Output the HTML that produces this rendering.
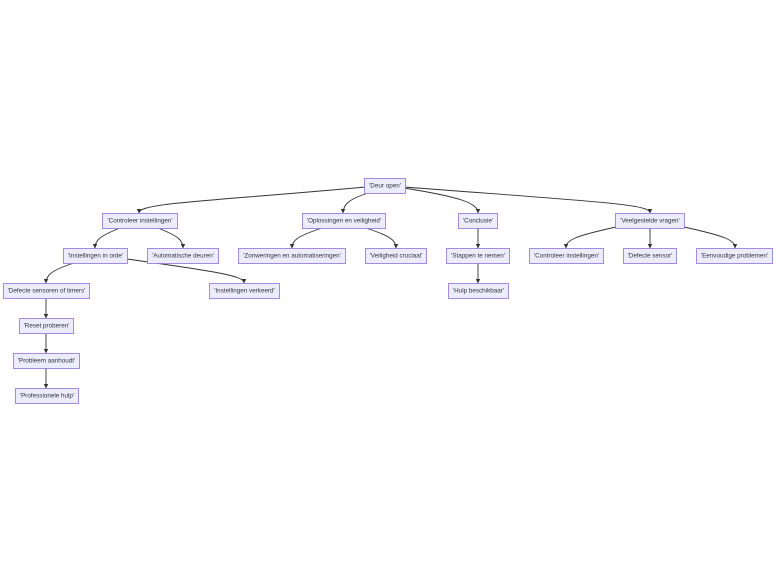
<!DOCTYPE html>
<html><head><meta charset="utf-8"><style>
html,body{margin:0;padding:0;background:#fff;width:784px;height:582px;overflow:hidden}
svg text{font-family:"Liberation Sans",Arial,sans-serif;font-size:6.3px;fill:#333;text-anchor:middle;dominant-baseline:central}
rect{fill:#ECECFF;stroke:#9370DB;stroke-width:0.8}
path.e{fill:none;stroke:#333;stroke-width:0.9}
</style></head><body>
<svg width="784" height="582" viewBox="0 0 784 582" xmlns="http://www.w3.org/2000/svg">
<defs><marker id="a" viewBox="0 0 10 10" refX="9" refY="5" markerWidth="5" markerHeight="5" orient="auto"><path d="M0,0L10,5L0,10z" fill="#333"/></marker></defs>
<!-- edges -->
<path class="e" marker-end="url(#a)" d="M366,187 C200,202 139,203 139,213"/>
<path class="e" marker-end="url(#a)" d="M368,193 C350,199 343,204 343,213"/>
<path class="e" marker-end="url(#a)" d="M404,188 C460,197 478,203 478,213"/>
<path class="e" marker-end="url(#a)" d="M404,187 C600,202 650,204 650,213"/>
<path class="e" marker-end="url(#a)" d="M120,228 C100,236 95,240 95,248"/>
<path class="e" marker-end="url(#a)" d="M158,228 C178,236 183,240 183,248"/>
<path class="e" marker-end="url(#a)" d="M322,228 C298,236 292,240 292,248"/>
<path class="e" marker-end="url(#a)" d="M366,228 C390,236 396,240 396,248"/>
<path class="e" marker-end="url(#a)" d="M478,228 L478,248"/>
<path class="e" marker-end="url(#a)" d="M616,227 C575,236 566,240 566,248"/>
<path class="e" marker-end="url(#a)" d="M650,228 L650,248"/>
<path class="e" marker-end="url(#a)" d="M684,227 C725,236 735,240 735,248"/>
<path class="e" marker-end="url(#a)" d="M74,263 C52,270 46,275 46,283"/>
<path class="e" marker-end="url(#a)" d="M127,259 C220,272 244,276 244,283"/>
<path class="e" marker-end="url(#a)" d="M478,263 L478,283"/>
<path class="e" marker-end="url(#a)" d="M46,298 L46,318"/>
<path class="e" marker-end="url(#a)" d="M46,333 L46,353"/>
<path class="e" marker-end="url(#a)" d="M46,368 L46,388"/>
<!-- nodes -->
<rect x="364.5" y="178.5" width="41" height="15"/><text x="385" y="186">'Deur open'</text>
<rect x="102.5" y="213.5" width="75" height="15"/><text x="140" y="221">'Controleer instellingen'</text>
<rect x="302.5" y="213.5" width="83" height="15"/><text x="344" y="221">'Oplossingen en veiligheid'</text>
<rect x="458.5" y="213.5" width="39" height="15"/><text x="478" y="221">'Conclusie'</text>
<rect x="615.5" y="213.5" width="69" height="15"/><text x="650" y="221">'Veelgestelde vragen'</text>
<rect x="63.5" y="248.5" width="64" height="15"/><text x="95.5" y="256">'Instellingen in orde'</text>
<rect x="147.5" y="248.5" width="71" height="15"/><text x="183" y="256">'Automatische deuren'</text>
<rect x="238.5" y="248.5" width="107" height="15"/><text x="292" y="256">'Zonweringen en automatiseringen'</text>
<rect x="365.5" y="248.5" width="61" height="15"/><text x="396" y="256">'Veiligheid cruciaal'</text>
<rect x="446.5" y="248.5" width="63" height="15"/><text x="478" y="256">'Stappen te nemen'</text>
<rect x="529.5" y="248.5" width="74" height="15"/><text x="566.5" y="256">'Controleer instellingen'</text>
<rect x="623.5" y="248.5" width="53" height="15"/><text x="650" y="256">'Defecte sensor'</text>
<rect x="696.5" y="248.5" width="76" height="15"/><text x="734.5" y="256">'Eenvoudige problemen'</text>
<rect x="3.5" y="283.5" width="86" height="15"/><text x="46.5" y="291">'Defecte sensoren of timers'</text>
<rect x="209.5" y="283.5" width="70" height="15"/><text x="244.5" y="291">'Instellingen verkeerd'</text>
<rect x="448.5" y="283.5" width="60" height="15"/><text x="478.5" y="291">'Hulp beschikbaar'</text>
<rect x="19.5" y="318.5" width="54" height="15"/><text x="46.5" y="326">'Reset proberen'</text>
<rect x="13.5" y="353.5" width="66" height="15"/><text x="46.5" y="361">'Probleem aanhoudt'</text>
<rect x="15.5" y="388.5" width="63" height="15"/><text x="47" y="396">'Professionele hulp'</text>
</svg>
</body></html>
